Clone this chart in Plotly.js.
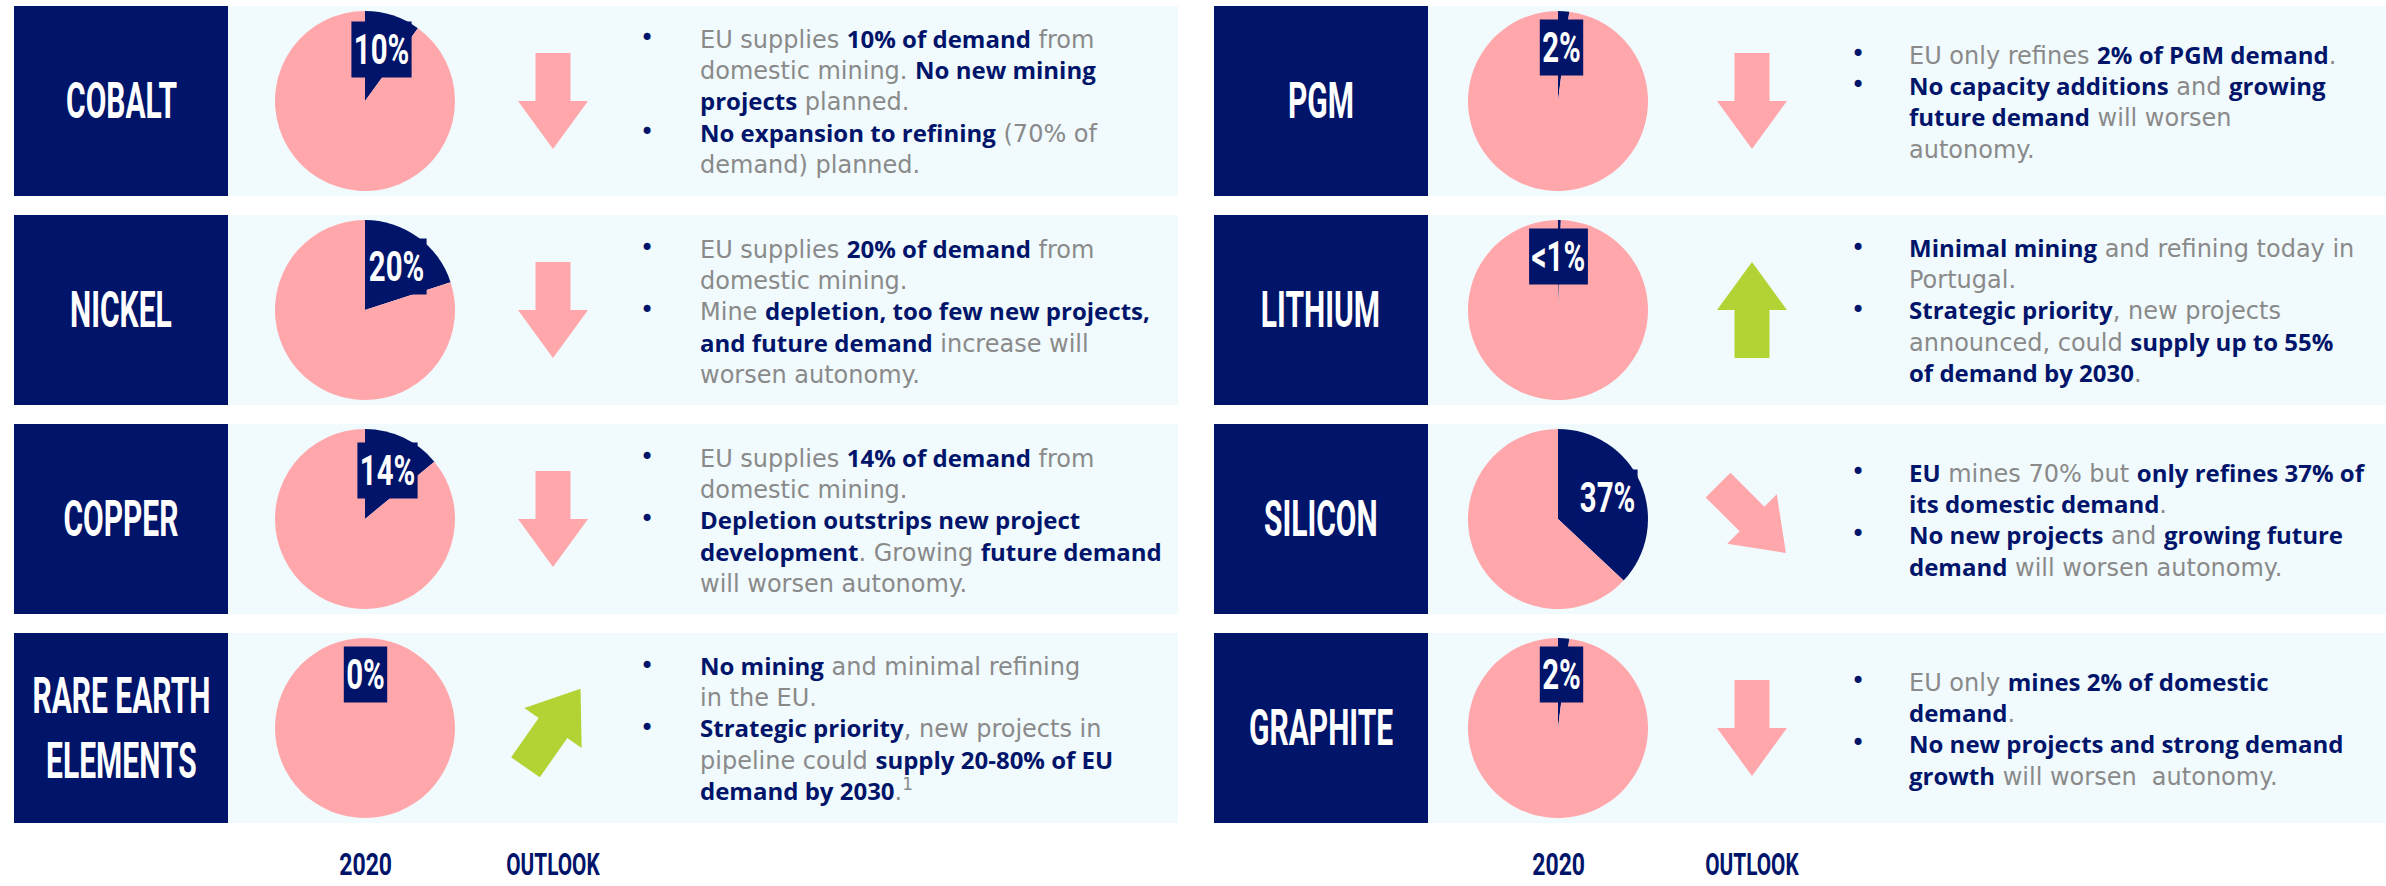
<!DOCTYPE html>
<html>
<head>
<meta charset="utf-8">
<script src="https://cdn.plot.ly/plotly-3.0.1.min.js"></script>
<style>
  html, body { margin: 0; padding: 0; background: #ffffff; }
  #chart { width: 2386px; height: 886px; }
</style>
</head>
<body>
<div id="chart"></div>
<script>
// data
const materials = ['COBALT', 'NICKEL', 'COPPER', 'RARE EARTH<br>ELEMENTS', 'PGM', 'LITHIUM', 'SILICON', 'GRAPHITE']
const domesticShare = [10, 20, 14, 0, 2, 0.5, 37, 2]
const shareLabels = ['10%', '20%', '14%', '0%', '2%', '<1%', '37%', '2%']
// outlook arrow direction, degrees clockwise from "up"
const outlookAngle = [180, 180, 180, 35, 180, 0, 135, 180]
const columnLabels = ['2020', 'OUTLOOK']

// bullet notes, *...* = highlighted
const notes = [
  [['EU supplies *10% of demand* from', 'domestic mining. *No new mining*', '*projects* planned.'],
   ['*No expansion to refining* (70% of', 'demand) planned.']],
  [['EU supplies *20% of demand* from', 'domestic mining.'],
   ['Mine *depletion, too few new projects,*', '*and future demand* increase will', 'worsen autonomy.']],
  [['EU supplies *14% of demand* from', 'domestic mining.'],
   ['*Depletion outstrips new project*', '*development*. Growing *future demand*', 'will worsen autonomy.']],
  [['*No mining* and minimal refining', 'in the EU.'],
   ['*Strategic priority*, new projects in', 'pipeline could *supply 20-80% of EU*', '*demand by 2030*.<sup>1</sup>']],
  [['EU only refines *2% of PGM demand*.'],
   ['*No capacity additions* and *growing*', '*future demand* will worsen', 'autonomy.']],
  [['*Minimal mining* and refining today in', 'Portugal.'],
   ['*Strategic priority*, new projects', 'announced, could *supply up to 55%*', '*of demand by 2030*.']],
  [['*EU* mines 70% but *only refines 37% of*', '*its domestic demand*.'],
   ['*No new projects* and *growing future*', '*demand* will worsen autonomy.']],
  [['EU only *mines 2% of domestic*', '*demand*.'],
   ['*No new projects and strong demand*', '*growth* will worsen  autonomy.']]
]

const W = 2386, H = 886
const NAVY = '#00146a'
const PINK = '#ffa7ab'
const GREEN = '#b3d335'
const PANEL = '#f1fafd'
const GREY = '#8a8a8a'
const CONDENSED = 'Roboto, "DejaVu Sans", sans-serif'
const BODY = '"DejaVu Sans", "Noto Sans", sans-serif'

// layout of the grid (pixels)
const rowTop = [6, 215, 424, 633]
const rowH = 190
const cols = [
  {boxL: 14, boxR: 228, panelR: 1178, pieX: 365, arrowX: 553, bulletX: 638, textX: 698},
  {boxL: 1214, boxR: 1428, panelR: 2386, pieX: 1558, arrowX: 1752, bulletX: 1849, textX: 1907}
]
const R = 90

const px = x => x / W
const py = y => 1 - y / H

function highlight(line) {
  return line.replace(/\*([^*]+)\*/g,
    '<b><span style="color:' + NAVY + ';font-family:Open Sans">$1</span></b>')
}

function arrowPath(cx, cy, angle) {
  const pts = [[0, -48], [35, 0], [17.5, 0], [17.5, 48], [-17.5, 48], [-17.5, 0], [-35, 0]]
  const t = angle * Math.PI / 180
  return pts.map((p, i) => {
    let x = cx + p[0] * Math.cos(t) - p[1] * Math.sin(t)
    let y = cy + p[0] * Math.sin(t) + p[1] * Math.cos(t)
    return (i === 0 ? 'M' : 'L') + px(x) + ',' + py(y)
  }).join(' ') + ' Z'
}

const traces = []
const shapes = []
const annotations = []
const narrow = []   // [annotation index, horizontal squeeze]

for (let i = 0; i < materials.length; i++) {
  const col = cols[Math.floor(i / 4)]
  const top = rowTop[i % 4]
  const cy = top + rowH / 2

  // panel + title box
  shapes.push({type: 'rect', xref: 'paper', yref: 'paper', layer: 'below',
    x0: px(col.boxR), x1: px(col.panelR), y0: py(top + rowH), y1: py(top),
    fillcolor: PANEL, line: {width: 0}})
  shapes.push({type: 'rect', xref: 'paper', yref: 'paper', layer: 'below',
    x0: px(col.boxL), x1: px(col.boxR), y0: py(top + rowH), y1: py(top),
    fillcolor: NAVY, line: {width: 0}})

  narrow.push([annotations.length, 0.6])
  annotations.push({xref: 'paper', yref: 'paper', x: px((col.boxL + col.boxR) / 2), y: py(cy),
    xanchor: 'center', yanchor: 'middle', showarrow: false, text: '<b>' + materials[i] + '</b>',
    font: {family: CONDENSED, size: 50, color: '#ffffff'}})

  // 2020 pie
  traces.push({
    type: 'pie', values: [domesticShare[i], 100 - domesticShare[i]], labels: ['EU', 'Rest'],
    sort: false, direction: 'clockwise', rotation: 0,
    marker: {colors: [NAVY, PINK], line: {width: 0}},
    textinfo: 'none', hoverinfo: 'none', showlegend: false,
    domain: {x: [px(col.pieX - R), px(col.pieX + R)], y: [py(cy + R), py(cy - R)]}
  })

  // share label placed along the middle of the EU slice
  const mid = domesticShare[i] / 100 * Math.PI
  const lr = 54
  narrow.push([annotations.length, 0.7])
  annotations.push({xref: 'paper', yref: 'paper',
    x: px(col.pieX + lr * Math.sin(mid)), y: py(cy - lr * Math.cos(mid)),
    xanchor: 'center', yanchor: 'middle', showarrow: false, text: '<b>' + shareLabels[i] + '</b>',
    bgcolor: NAVY, borderpad: 3,
    font: {family: CONDENSED, size: 42, color: '#ffffff'}})

  // outlook arrow
  const a = outlookAngle[i]
  shapes.push({type: 'path', xref: 'paper', yref: 'paper', layer: 'above',
    path: arrowPath(col.arrowX, cy, a),
    fillcolor: (a < 90 || a > 270) ? GREEN : PINK, line: {width: 0}})

  // bullets and text
  const lines = []
  const bullets = []
  notes[i].forEach(item => {
    item.forEach((l, k) => {
      lines.push(highlight(l))
      bullets.push(k === 0 ? '•' : '\u00a0')
    })
  })
  annotations.push({xref: 'paper', yref: 'paper', x: px(col.textX), y: py(cy),
    xanchor: 'left', yanchor: 'middle', align: 'left', showarrow: false,
    text: lines.join('<br>'), font: {family: BODY, size: 24, color: GREY}})
  annotations.push({xref: 'paper', yref: 'paper', x: px(col.bulletX), y: py(cy),
    xanchor: 'left', yanchor: 'middle', align: 'left', showarrow: false,
    text: bullets.join('<br>'), font: {family: BODY, size: 24, color: NAVY}})
}

// column captions
cols.forEach(col => {
  [col.pieX, col.arrowX].forEach((x, j) => {
    narrow.push([annotations.length, j === 0 ? 0.72 : 0.65])
    annotations.push({xref: 'paper', yref: 'paper', x: px(x), y: py(885),
      xanchor: 'center', yanchor: 'bottom', showarrow: false,
      text: '<b>' + columnLabels[j] + '</b>',
      font: {family: CONDENSED, size: 32, color: NAVY}})
  })
})

const layout = {
  width: W, height: H,
  margin: {l: 0, r: 0, t: 0, b: 0},
  paper_bgcolor: '#ffffff',
  showlegend: false,
  shapes: shapes,
  annotations: annotations
}

Plotly.newPlot('chart', traces, layout, {displayModeBar: false, staticPlot: true}).then(gd => {
  // the poster uses a condensed display face; squeeze those labels horizontally
  narrow.forEach(([idx, s]) => {
    const g = gd.querySelector('g.annotation[data-index="' + idx + '"] g.annotation-text-g > g')
    if (!g) return
    const bb = g.getBBox()
    const cx = bb.x + bb.width / 2
    const t = g.getAttribute('transform') || ''
    g.setAttribute('transform', t + ' translate(' + cx + ',0) scale(' + s + ',1) translate(' + (-cx) + ',0)')
  })
})
</script>
</body>
</html>
